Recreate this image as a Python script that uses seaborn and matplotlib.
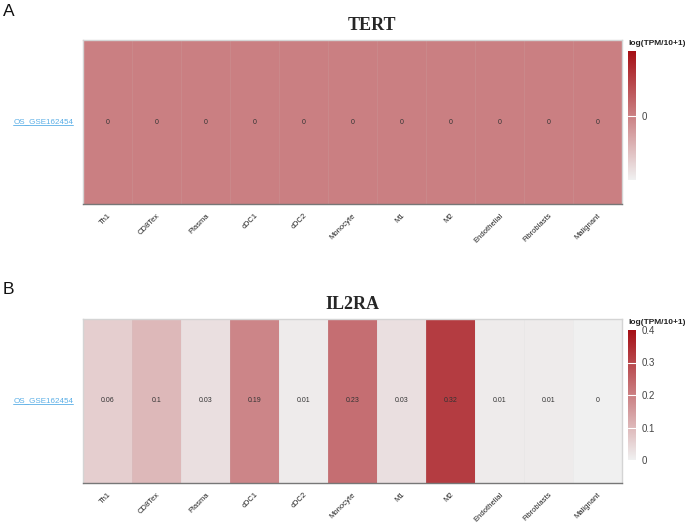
import numpy as np
import pandas as pd
import matplotlib
matplotlib.use("Agg")
import matplotlib.pyplot as plt
import seaborn as sns
from matplotlib.colors import LinearSegmentedColormap

sns.set_theme(style="white")
plt.rcParams["font.family"] = ["Liberation Sans", "DejaVu Sans"]

cell_types = ["Th1", "CD8Tex", "Plasma", "cDC1", "cDC2", "Monocyte",
              "M1", "M2", "Endothelial", "Fibroblasts", "Malignant"]
dataset = ["OS_GSE162454"]
tert_values = [0, 0, 0, 0, 0, 0, 0, 0, 0, 0, 0]
il2ra_values = [0.06, 0.1, 0.03, 0.19, 0.01, 0.23, 0.03, 0.32, 0.01, 0.01, 0]

cmap = LinearSegmentedColormap.from_list("gr", ["#f0f0f0", "#a50f15"])

fig = plt.figure(figsize=(6.85, 5.27), dpi=100)
W, H = 685, 527


def box(x0, y0, x1, y1):
    return [x0 / W, 1 - y1 / H, (x1 - x0) / W, (y1 - y0) / H]


def draw_panel(values, gene, hm_box, cb_box, vmin, vmax, cticks, letter, letter_y,
               title_x=0.5):
    ax = fig.add_axes(box(*hm_box))
    cax = fig.add_axes(box(*cb_box))
    df = pd.DataFrame([values], index=dataset, columns=cell_types)
    labels = np.array([[f"{v:g}" for v in values]])
    sns.heatmap(df, ax=ax, cbar_ax=cax, cmap=cmap, vmin=vmin, vmax=vmax,
                annot=labels, fmt="", annot_kws={"fontsize": 5, "color": "#333333"},
                linewidths=0.5, linecolor=(0.8, 0.8, 0.8, 0.12))
    ax.set_xlabel("")
    ax.set_ylabel("")
    ax.set_xticklabels(cell_types, rotation=45, ha="right", rotation_mode="anchor",
                       fontsize=5.5, color="#222222")
    ax.tick_params(axis="x", length=0, pad=6)
    ax.set_yticklabels(dataset, rotation=0, fontsize=5.8, color="#5aaee6")
    ax.tick_params(axis="y", length=0, pad=7)
    for s in ["top", "left", "right"]:
        ax.spines[s].set_visible(True)
        ax.spines[s].set_color("#d4d4d4")
        ax.spines[s].set_linewidth(1.0)
    ax.spines["bottom"].set_visible(True)
    ax.spines["bottom"].set_color("#777777")
    ax.spines["bottom"].set_linewidth(1.0)
    ax.set_title(gene, fontsize=13, fontweight="bold", family="Liberation Serif",
                 pad=7, x=title_x)

    # underline for the dataset label
    fig.canvas.draw()
    for t in ax.get_yticklabels():
        bb = t.get_window_extent().transformed(fig.transFigure.inverted())
        fig.add_artist(plt.Line2D([bb.x0, bb.x1], [bb.y0 + 0.001, bb.y0 + 0.001],
                                  color="#5aaee6", lw=0.6))

    cax.set_yticks(cticks)
    cax.set_yticklabels([f"{c:g}" for c in cticks], fontsize=7, color="#444444")
    cax.tick_params(axis="y", length=0, pad=4)
    for c in cticks:
        if vmin < c < vmax:
            cax.axhline(c, color="white", lw=0.8)
    for s in cax.spines.values():
        s.set_visible(False)
    cax.text(0, 1.03, "log(TPM/10+1)", transform=cax.transAxes, fontsize=6.0,
             fontweight="bold", ha="left", va="bottom", color="#222222")
    fig.text(3 / W, 1 - letter_y / H, letter, fontsize=12.5, ha="left", va="center",
             color="#111111")


draw_panel(tert_values, "TERT", (83, 40, 622, 204), (628, 51, 636, 180),
           -1, 1, [0], "A", 11, title_x=0.536)
draw_panel(il2ra_values, "IL2RA", (83, 319, 622, 483), (628, 330, 636, 460),
           0, 0.4, [0, 0.1, 0.2, 0.3, 0.4], "B", 289)

fig.savefig("out.png", dpi=100)
